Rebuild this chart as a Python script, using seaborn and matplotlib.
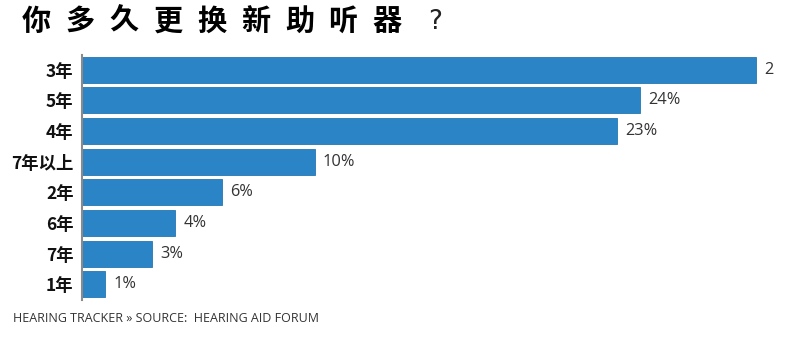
import matplotlib
matplotlib.use("Agg")
import matplotlib.pyplot as plt
import seaborn as sns
import pandas as pd
from matplotlib.transforms import Bbox

# Survey answers: how often people replace their hearing aids
categories = ["3年", "5年", "4年", "7年以上", "2年", "6年", "7年", "1年"]
shares = [29, 24, 23, 10, 6, 4, 3, 1]
value_labels = ["29%", "24%", "23%", "10%", "6%", "4%", "3%", "1%"]
title_chars = ["你", "多", "久", "更", "换", "新", "助", "听", "器"]
footer = "HEARING TRACKER » SOURCE:  HEARING AID FORUM"

sns.set_theme(style="white")
plt.rcParams["font.family"] = ["Noto Sans CJK SC", "DejaVu Sans"]

df = pd.DataFrame({"category": categories, "share": shares})

fig = plt.figure(figsize=(8.0, 3.42), dpi=100)
ax = fig.add_axes([82 / 800, 1 - 299.5 / 342, 697.5 / 800, (299.5 - 54.5) / 342])

sns.barplot(data=df, x="share", y="category", order=categories, orient="h",
            color="#2a84c6", saturation=1, width=0.85,
            edgecolor="#2477b5", linewidth=0.6, ax=ax)

ax.set_xlim(0, 30)
ax.set_ylim(7.5, -0.5)
ax.set_xlabel("")
ax.set_ylabel("")
ax.set_xticks([])
for s in ["top", "right", "bottom"]:
    ax.spines[s].set_visible(False)
ax.spines["left"].set_color("#8a8a8a")
ax.spines["left"].set_linewidth(1.5)
ax.tick_params(axis="y", length=0, pad=6)
for lab in ax.get_yticklabels():
    lab.set_fontsize(12.5)
    lab.set_fontweight("heavy")
    lab.set_color("#111111")

# Value labels to the right of each bar; the page edge cuts off the long one
clip = Bbox.from_extents(0, 0, 773.5, 342)
for i, (v, txt) in enumerate(zip(shares, value_labels)):
    t = ax.text(v + 0.36, i, txt, va="center", ha="left",
                fontsize=11.8, color="#333333", family=["Open Sans", "DejaVu Sans"])
    t.set_clip_box(clip)
    t.set_clip_on(True)

# Spaced-out heading
for k, ch in enumerate(title_chars):
    fig.text((22 + k * 43.8) / 800, 1 - 21 / 342, ch, ha="left", va="center",
             fontsize=21, fontweight="heavy", color="#000000")
fig.text(428 / 800, 1 - 22 / 342, "?", ha="left", va="center",
         fontsize=19, color="#222222", family=["DejaVu Sans"])

fig.text(13 / 800, 1 - 319 / 342, footer, ha="left", va="center",
         fontsize=9, color="#333333", family=["Open Sans", "DejaVu Sans"])

fig.savefig("out.png", dpi=100, facecolor="white")
